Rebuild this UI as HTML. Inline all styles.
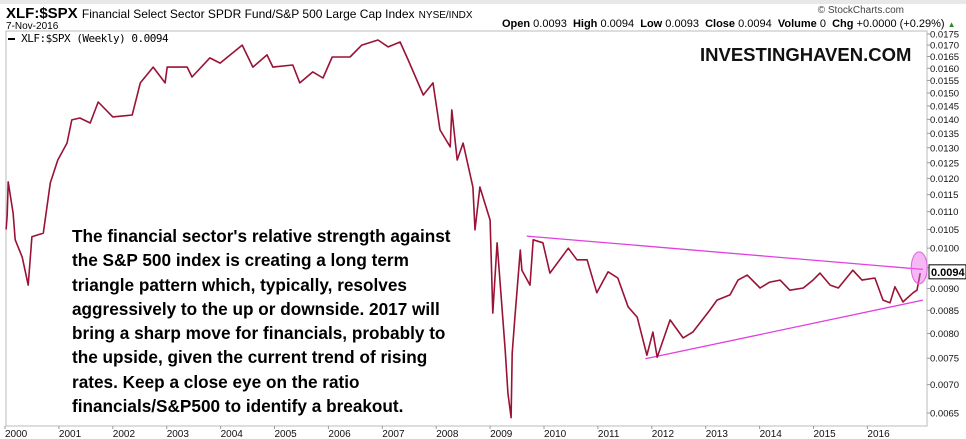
<!DOCTYPE html>
<html><head><meta charset="utf-8">
<style>
body{margin:0;background:#fff;font-family:"Liberation Sans",Arial,sans-serif;}
#wrap{position:relative;width:966px;height:439px;overflow:hidden;background:#fff;}
.t{position:absolute;white-space:nowrap;}
</style></head>
<body>
<div id="wrap">
<div style="position:absolute;left:0;top:0;width:966px;height:4px;background:#e8e8e8"></div>
<div class="t" style="left:6px;top:5px;font-size:15px;font-weight:bold;line-height:17px">XLF:$SPX <span style="font-weight:normal;font-size:12px">Financial Select Sector SPDR Fund/S&amp;P 500 Large Cap Index</span> <span style="font-weight:normal;font-size:10px">NYSE/INDX</span></div>
<div class="t" style="left:6px;top:21px;font-size:10px;line-height:11px">7-Nov-2016</div>
<div class="t" style="right:62px;top:5px;font-size:10px;color:#444">© StockCharts.com</div>
<div class="t" style="left:502px;top:18px;font-size:11px"><b>Open</b> 0.0093 &nbsp;<b>High</b> 0.0094 &nbsp;<b>Low</b> 0.0093 &nbsp;<b>Close</b> 0.0094 &nbsp;<b>Volume</b> 0 &nbsp;<b>Chg</b> +0.0000 (+0.29%) <span style="color:#2a8a2a;font-size:8px">▲</span></div>
<svg id="chart" width="966" height="439" style="position:absolute;left:0;top:0"></svg>
<div class="t" style="left:8px;top:32px;font-size:11px;font-family:'DejaVu Sans Mono','Liberation Mono',monospace;letter-spacing:-0.5px"><span style="display:inline-block;width:7px;height:2px;background:#000;vertical-align:middle"></span> XLF:$SPX (Weekly) 0.0094</div>
<div class="t" style="left:700px;top:44px;font-size:18.5px;font-weight:bold;color:#111">INVESTINGHAVEN.COM</div>
<div class="t" style="left:72px;top:224px;font-size:17.2px;font-weight:bold;line-height:24.3px;color:#000">The financial sector's relative strength against<br>the S&amp;P 500 index is creating a long term<br>triangle pattern which, typically, resolves<br>aggressively to the up or downside. 2017 will<br>bring a sharp move for financials, probably to<br>the upside, given the current trend of rising<br>rates. Keep a close eye on the ratio<br>financials/S&amp;P500 to identify a breakout.</div>
</div>
<script>
const dates=[2000.02,2000.04,2000.06,2000.15,2000.19,2000.32,2000.43,2000.50,2000.71,2000.84,2000.98,2001.15,2001.24,2001.39,2001.58,2001.73,2002.00,2002.36,2002.51,2002.75,2002.97,2003.01,2003.38,2003.47,2003.80,2003.99,2004.40,2004.60,2004.86,2004.97,2005.34,2005.47,2005.71,2005.90,2006.07,2006.40,2006.62,2006.92,2007.11,2007.33,2007.48,2007.76,2007.94,2008.07,2008.26,2008.29,2008.39,2008.50,2008.68,2008.72,2008.81,2009.00,2009.05,2009.13,2009.28,2009.33,2009.39,2009.41,2009.46,2009.56,2009.59,2009.74,2009.80,2009.98,2010.11,2010.45,2010.61,2010.80,2010.98,2011.19,2011.37,2011.56,2011.73,2011.91,2012.02,2012.10,2012.34,2012.58,2012.76,2013.08,2013.21,2013.45,2013.60,2013.77,2014.01,2014.19,2014.38,2014.56,2014.81,2014.99,2015.12,2015.31,2015.46,2015.73,2015.90,2016.14,2016.29,2016.42,2016.51,2016.66,2016.85,2016.92,2016.98];
const values=[0.0105,0.0109,0.01189,0.01096,0.01022,0.00977,0.00908,0.01030,0.01040,0.01186,0.01259,0.01316,0.01398,0.01405,0.01387,0.01465,0.01409,0.01416,0.01540,0.01605,0.01540,0.01605,0.01605,0.01564,0.01644,0.01622,0.01700,0.01605,0.01657,0.01605,0.01614,0.01540,0.01585,0.01560,0.01648,0.01648,0.01700,0.01723,0.01692,0.01714,0.01635,0.01492,0.01540,0.01362,0.01303,0.01435,0.01259,0.01316,0.01173,0.01049,0.01173,0.01076,0.00844,0.01014,0.00766,0.00685,0.00642,0.00760,0.00835,0.00995,0.00944,0.00908,0.01022,0.01014,0.00937,0.01000,0.00970,0.00970,0.00890,0.00940,0.00925,0.00858,0.00835,0.00756,0.00803,0.00752,0.00829,0.00791,0.00803,0.00851,0.00873,0.00885,0.00920,0.00932,0.00901,0.00915,0.00920,0.00896,0.00901,0.00920,0.00937,0.00908,0.00901,0.00944,0.00920,0.00925,0.00873,0.00867,0.00904,0.00869,0.00890,0.00896,0.00937];
const upperTrendDates=[2009.68,2017.03];
const upperTrendValues=[0.01032,0.00946];
const lowerTrendDates=[2011.88,2017.03];
const lowerTrendValues=[0.00749,0.00873];
const yTicks=[0.0175,0.017,0.0165,0.016,0.0155,0.015,0.0145,0.014,0.0135,0.013,0.0125,0.012,0.0115,0.011,0.0105,0.01,0.0095,0.009,0.0085,0.008,0.0075,0.007,0.0065];
const xTicks=[2000,2001,2002,2003,2004,2005,2006,2007,2008,2009,2010,2011,2012,2013,2014,2015,2016];
const lastValue=0.0094;

const NS="http://www.w3.org/2000/svg";
const svg=document.getElementById('chart');
const L=6,R=927,T=31,B=426;
function x(d){return 5+(d-2000)*53.9;}
function y(v){return 34+(Math.log(0.0175)-Math.log(v))/(Math.log(0.0175)-Math.log(0.0065))*379;}
function mk(tag,attrs){const e=document.createElementNS(NS,tag);for(const k in attrs)e.setAttribute(k,attrs[k]);svg.appendChild(e);return e;}

const frame=mk('rect',{x:L,y:T,width:R-L,height:B-T,fill:'none',stroke:'#bbb','stroke-width':1});



yTicks.forEach(v=>{
  const tk=mk('line',{x1:R,x2:R+3,y1:y(v),y2:y(v),stroke:'#999'});
  
  
  const t=mk('text',{x:R+3,y:y(v)+3.5,'font-size':9.5,'font-family':'Liberation Sans, sans-serif',fill:'#111'});
  t.textContent=v.toFixed(4);
  
  
});
xTicks.forEach(d=>{
  const tk=mk('line',{x1:x(d),x2:x(d),y1:B,y2:B+3,stroke:'#999'});
  
  
  const t=mk('text',{x:x(d),y:437,'font-size':10,'font-family':'Liberation Sans, sans-serif',fill:'#111'});
  t.textContent=String(d);
  
  
});

function trend(ds,vs,name){
  const l=mk('line',{x1:x(ds[0]),y1:y(vs[0]),x2:x(ds[1]),y2:y(vs[1]),stroke:'#e040e0','stroke-width':1.3});
  
  
}
trend(upperTrendDates,upperTrendValues,'upper-trendline');
trend(lowerTrendDates,lowerTrendValues,'lower-trendline');

let dstr=dates.map((d,i)=>(i?'L':'M')+x(d).toFixed(1)+','+y(values[i]).toFixed(1)).join(' ');
const line=mk('path',{d:dstr,fill:'none',stroke:'#9a1236','stroke-width':1.6,'stroke-linejoin':'round'});



const ld=dates[dates.length-1];
const ell=mk('ellipse',{cx:x(ld)-1,cy:y(lastValue)-4,rx:8,ry:16,fill:'rgba(230,100,230,0.45)',stroke:'#e060e0'});



const box=mk('rect',{x:R+2,y:y(lastValue)-7,width:37,height:14,fill:'#fff',stroke:'#000'});


const lt=mk('text',{x:R+4,y:y(lastValue)+4,'font-size':11,'font-weight':'bold','font-family':'Liberation Sans, sans-serif'});
lt.textContent=lastValue.toFixed(4);


</script>
</body></html>
